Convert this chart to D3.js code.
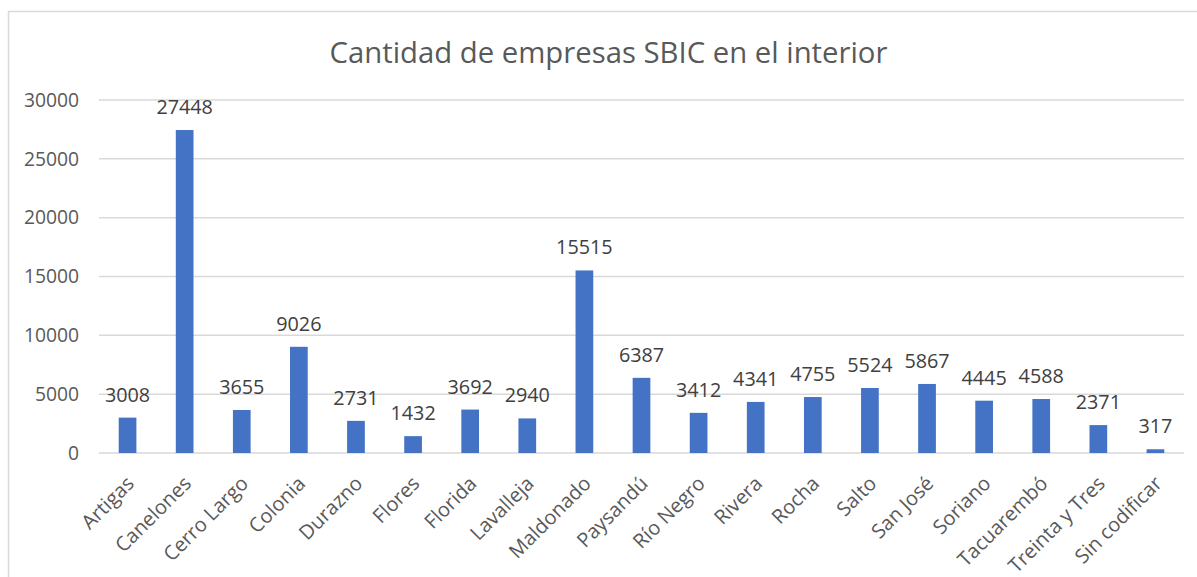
<!DOCTYPE html>
<html><head><meta charset="utf-8">
<script src="https://cdn.jsdelivr.net/npm/d3@7"></script>
<style>body{margin:0;background:#fff;}svg{display:block;}text{font-family:"Open Sans","Noto Sans",sans-serif;}</style>
</head><body>
<svg id="c" width="1197" height="577"></svg>
<script>
const categories = ["Artigas","Canelones","Cerro Largo","Colonia","Durazno","Flores","Florida","Lavalleja","Maldonado","Paysandú","Río Negro","Rivera","Rocha","Salto","San José","Soriano","Tacuarembó","Treinta y Tres","Sin codificar"];
const values = [3008,27448,3655,9026,2731,1432,3692,2940,15515,6387,3412,4341,4755,5524,5867,4445,4588,2371,317];
const yTicks = [0,5000,10000,15000,20000,25000,30000];
const title = "Cantidad de empresas SBIC en el interior";

const svg = d3.select("#c");
svg.append("rect").attr("x",8.5).attr("y",11.5).attr("width",1200).attr("height",600)
  .attr("fill","#fff").attr("stroke","#d9d9d9").attr("stroke-width",1.5);

const x = d3.scaleBand().domain(categories).range([99,1184]).paddingInner(0.69).paddingOuter(0.345);
const y = d3.scaleLinear().domain([0,30000]).range([453,100]);

svg.append("text").attr("x",608.5).attr("y",63).attr("text-anchor","middle")
  .attr("font-size",29.3).attr("fill","#595959").text(title);

const grid = svg.append("g");
grid.selectAll("line").data(yTicks).join("line")
  .attr("x1",99).attr("x2",1184).attr("y1",d=>y(d)).attr("y2",d=>y(d))
  .attr("stroke","#d9d9d9").attr("stroke-width",1.5);

const yAxis = d3.axisLeft(y).tickValues(yTicks).tickFormat(d=>String(d)).tickSize(0).tickPadding(0);
const ya = svg.append("g").attr("transform","translate(79,0)").call(yAxis);
ya.select(".domain").remove();
ya.selectAll("text").attr("font-size",19.3).attr("fill","#595959").attr("font-family","'Open Sans',sans-serif");

svg.append("g").selectAll("rect").data(values).join("rect")
  .attr("x",(d,i)=>x(categories[i])).attr("width",x.bandwidth())
  .attr("y",d=>y(d)).attr("height",d=>y(0)-y(d)).attr("fill","#4472C4");

svg.append("g").selectAll("text").data(values).join("text")
  .attr("x",(d,i)=>x(categories[i])+x.bandwidth()/2).attr("y",d=>y(d)-16)
  .attr("text-anchor","middle").attr("font-size",19.8).attr("fill","#404040").text(d=>d);

const xAxis = d3.axisBottom(x).tickSize(0).tickPadding(0);
const xa = svg.append("g").attr("transform","translate(0,453)").call(xAxis);
xa.select(".domain").remove();
xa.selectAll("text").attr("font-size",20).attr("fill","#595959").attr("font-family","'Open Sans',sans-serif")
  .attr("text-anchor","end").attr("dy",null).attr("y",0)
  .attr("transform","translate(4,28) rotate(-45)").attr("dominant-baseline","middle");
</script>
</body></html>
